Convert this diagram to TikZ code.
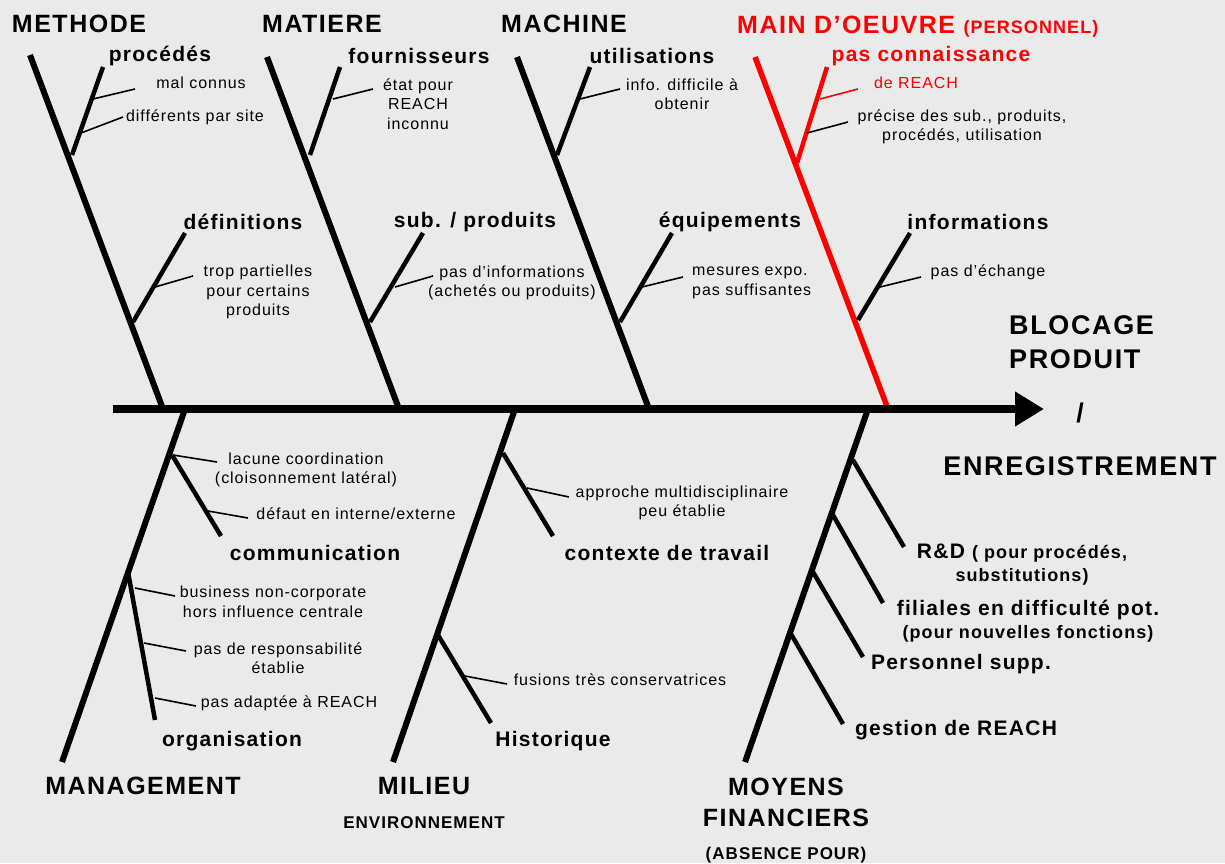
\documentclass[tikz,border=0pt]{standalone}
\usepackage{fontspec}
\setmainfont{Liberation Sans}[LetterSpace=6]
\usetikzlibrary{arrows.meta}
\definecolor{paper}{HTML}{EAEAEA}
\definecolor{hot}{HTML}{FF0000}
\tikzset{
  spine/.style={line width=8.5pt,-{Triangle[length=29pt,width=33pt]}},
  bone/.style={line width=6pt},
  twig/.style={line width=4.5pt},
  tick/.style={line width=1.6pt},
  cause/.style={font=\bfseries\fontsize{25}{31}\selectfont,inner sep=0pt,align=center},
  branch/.style={font=\bfseries\fontsize{21}{23}\selectfont,inner sep=0pt,align=center},
  note/.style={font=\fontsize{16}{19.5}\selectfont,inner sep=0pt,align=center},
  effect/.style={font=\bfseries\fontsize{27}{34}\selectfont,inner sep=0pt,align=left},
  tag/.style={font=\bfseries\fontsize{17}{20}\selectfont,inner sep=0pt},
}

\begin{document}
\begin{tikzpicture}[x=1pt,y=-1pt]
  \fill[paper] (0,0) rectangle (1225,863);
  \useasboundingbox (0,0) rectangle (1225,863);

  % spine
  \coordinate (sL) at (113,409);
  \coordinate (sR) at (1044,409);

  % upper bones
  \coordinate (methT) at (30,55);   \coordinate (methB) at (163,409);
  \coordinate (matT) at (267,57);   \coordinate (matB) at (399,409);
  \coordinate (machT) at (517,57);  \coordinate (machB) at (649,409);
  \coordinate (mainT) at (755,57);  \coordinate (mainB) at (888,409);

  \coordinate (procA) at (72,155);  \coordinate (procB) at (103,67);
  \coordinate (defA) at (133,322);  \coordinate (defB) at (185,233);
  \coordinate (fourA) at (310,155); \coordinate (fourB) at (340,67);
  \coordinate (subA) at (370,322);  \coordinate (subB) at (423,233);
  \coordinate (utilA) at (557,155); \coordinate (utilB) at (590,67);
  \coordinate (equA) at (620,322);  \coordinate (equB) at (672,233);
  \coordinate (connA) at (797,163); \coordinate (connB) at (827,67);
  \coordinate (infA) at (858,320);  \coordinate (infB) at (910,233);

  % lower bones
  \coordinate (manT) at (185,409);  \coordinate (manB) at (62,762);
  \coordinate (milT) at (515,409);  \coordinate (milB) at (393,762);
  \coordinate (moyT) at (868,409);  \coordinate (moyB) at (745,762);

  \coordinate (comA) at (172,455);  \coordinate (comB) at (221,536);
  \coordinate (orgA) at (128,572);  \coordinate (orgB) at (155,720);
  \coordinate (ctxA) at (503,453);  \coordinate (ctxB) at (553,536);
  \coordinate (hisA) at (438,635);  \coordinate (hisB) at (491,723);
  \coordinate (rdA) at (853,460);   \coordinate (rdB) at (904,547);
  \coordinate (filA) at (833,515);  \coordinate (filB) at (883,603);
  \coordinate (perA) at (813,572);  \coordinate (perB) at (863,657);
  \coordinate (gesA) at (791,634);  \coordinate (gesB) at (843,724);

  \draw[bone] (methT) -- (methB);
  \draw[bone] (matT) -- (matB);
  \draw[bone] (machT) -- (machB);
  \draw[bone,draw=hot,line width=5.5pt] (mainT) -- (mainB);
  \draw[bone] (manT) -- (manB);
  \draw[bone] (milT) -- (milB);
  \draw[bone] (moyT) -- (moyB);
  \draw[spine] (sL) -- (sR);

  \draw[twig] (procA) -- (procB);
  \draw[twig] (defA) -- (defB);
  \draw[twig] (fourA) -- (fourB);
  \draw[twig] (subA) -- (subB);
  \draw[twig] (utilA) -- (utilB);
  \draw[twig] (equA) -- (equB);
  \draw[twig,draw=hot] (connA) -- (connB);
  \draw[twig] (infA) -- (infB);
  \draw[twig] (comA) -- (comB);
  \draw[twig] (orgA) -- (orgB);
  \draw[twig] (ctxA) -- (ctxB);
  \draw[twig] (hisA) -- (hisB);
  \draw[twig] (rdA) -- (rdB);
  \draw[twig] (filA) -- (filB);
  \draw[twig] (perA) -- (perB);
  \draw[twig] (gesA) -- (gesB);

  % causes
  \node[cause] (meth) at (79,24) {METHODE};
  \node[cause] (mat) at (322,24) {MATIERE};
  \node[cause] (mach) at (564,24) {MACHINE};
  \node[cause,anchor=base west,text=hot] (main) at (737,33) {MAIN D’OEUVRE {\fontsize{18}{20}\selectfont(PERSONNEL)}};
  \node[cause] (man) at (143,786) {MANAGEMENT};
  \node[cause] (mil) at (424,786) {MILIEU};
  \node[tag] (env) at (424,823) {ENVIRONNEMENT};
  \node[cause] (moy) at (786,802) {MOYENS\\FINANCIERS};
  \node[tag] (abs) at (786,855) {(ABSENCE POUR)};

  % effect
  \node[effect,anchor=west] (blo) at (1009,342) {BLOCAGE\\PRODUIT};
  \node[effect] (sl) at (1080,413) {/};
  \node[effect] (enr) at (1080,466) {ENREGISTREMENT};

  % branch labels
  \node[branch] (proc) at (160,56) {procédés};
  \node[branch] (def) at (243,222) {définitions};
  \node[branch] (four) at (419,56) {fournisseurs};
  \node[branch] (sub) at (475,222) {sub. / produits};
  \node[branch] (util) at (652,56) {utilisations};
  \node[branch] (equ) at (730,222) {équipements};
  \node[branch,text=hot] (conn) at (931,56) {pas connaissance};
  \node[branch] (inf) at (978,222) {informations};
  \node[branch] (com) at (315,553) {communication};
  \node[branch] (org) at (232,741) {organisation};
  \node[branch] (ctx) at (667,553) {contexte de travail};
  \node[branch] (his) at (553,741) {Historique};
  \node[branch] (rd) at (1022,565) {R\&D {\fontsize{18}{20}\selectfont( pour procédés,}\\{\fontsize{18}{20}\selectfont substitutions)}};
  \node[branch] (fil) at (1028,621) {filiales en difficulté pot.\\{\fontsize{18}{20}\selectfont(pour nouvelles fonctions)}};
  \node[branch] (per) at (961,664) {Personnel supp.};
  \node[branch] (ges) at (956,730) {gestion de REACH};

  % notes
  \node[note] (n1) at (201,83) {mal connus};
  \node[note] (n2) at (195,117) {différents par site};
  \node[note] (n3) at (258,292) {trop partielles\\pour certains\\produits};
  \node[note] (n4) at (418,104) {état pour\\REACH\\inconnu};
  \node[note] (n5) at (512,283) {pas d’informations\\(achetés ou produits)};
  \node[note] (n6) at (682,94) {info. difficile à\\obtenir};
  \node[note,align=left,anchor=west] (n7) at (692,283) {mesures expo.\\pas suffisantes};
  \node[note,text=hot] (n8) at (916,83) {de REACH};
  \node[note] (n9) at (962,127) {précise des sub., produits,\\procédés, utilisation};
  \node[note] (n10) at (988,272) {pas d’échange};
  \node[note] (n11) at (306,470) {lacune coordination\\(cloisonnement latéral)};
  \node[note] (n12) at (356,514) {défaut en interne/externe};
  \node[note] (n13) at (273,602) {business non-corporate\\hors influence centrale};
  \node[note] (n14) at (278,658) {pas de responsabilité\\établie};
  \node[note] (n15) at (289,703) {pas adaptée à REACH};
  \node[note] (n16) at (682,503) {approche multidisciplinaire\\peu établie};
  \node[note] (n17) at (620,680) {fusions très conservatrices};

  % ticks
  \draw[tick] (93,99) -- (135,89);
  \draw[tick] (81,133) -- (123,117);
  \draw[tick] (155,287) -- (193,276);
  \draw[tick] (333,99) -- (373,89);
  \draw[tick] (395,287) -- (433,276);
  \draw[tick] (580,99) -- (620,89);
  \draw[tick] (642,287) -- (683,277);
  \draw[tick,draw=hot] (820,99) -- (858,89);
  \draw[tick] (807,133) -- (848,122);
  \draw[tick] (880,287) -- (921,277);
  \draw[tick] (173,455) -- (217,462);
  \draw[tick] (208,511) -- (248,518);
  \draw[tick] (135,588) -- (175,596);
  \draw[tick] (144,643) -- (186,651);
  \draw[tick] (155,698) -- (196,706);
  \draw[tick] (527,488) -- (569,497);
  \draw[tick] (465,676) -- (507,684);
\end{tikzpicture}
\end{document}
